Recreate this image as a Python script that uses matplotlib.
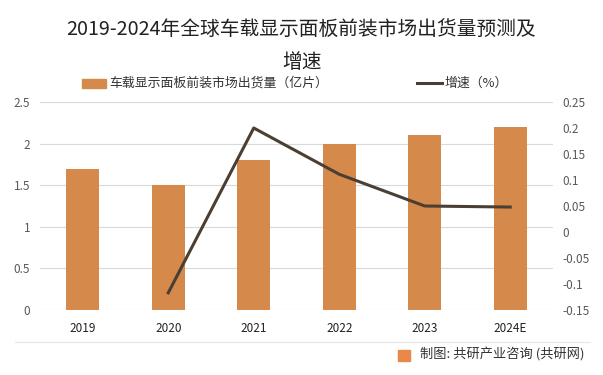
import matplotlib
matplotlib.use('Agg')
import matplotlib.pyplot as plt
from matplotlib.patches import Rectangle
from matplotlib.lines import Line2D

plt.rcParams['font.family'] = ['Noto Sans CJK SC', 'DejaVu Sans']

years = ['2019', '2020', '2021', '2022', '2023', '2024E']
shipments = [1.7, 1.5, 1.8, 2.0, 2.1, 2.2]
growth_years = ['2020', '2021', '2022', '2023', '2024E']
growth = [-0.117, 0.2, 0.111, 0.05, 0.048]
left_ticks = [0, 0.5, 1, 1.5, 2, 2.5]
left_labels = ['0', '0.5', '1', '1.5', '2', '2.5']
right_ticks = [-0.15, -0.1, -0.05, 0, 0.05, 0.1, 0.15, 0.2, 0.25]
right_labels = ['-0.15', '-0.1', '-0.05', '0', '0.05', '0.1', '0.15', '0.2', '0.25']

bar_color = '#D58A4B'
line_color = '#4B3F33'
tick_color = '#595959'

fig = plt.figure(figsize=(6.03, 3.75), dpi=100)
ax = fig.add_axes([40 / 603, 1 - 310 / 375, 513 / 603, 208 / 375])

x = list(range(len(years)))
ax.bar(x, shipments, width=0.39, color=bar_color, zorder=2)
ax.set_xlim(-0.5, len(years) - 0.5)
ax.set_ylim(0, 2.5)
ax.set_yticks(left_ticks)
ax.set_yticklabels(left_labels)
ax.set_xticks(x)
ax.set_xticklabels(years)
ax.grid(axis='y', color='#D9D9D9', linewidth=0.8, zorder=0)
for s in ax.spines.values():
    s.set_visible(False)
ax.tick_params(axis='both', length=0, labelsize=8.5, colors=tick_color)
ax.tick_params(axis='y', pad=7)
ax.tick_params(axis='x', pad=9)
for lab in ax.get_xticklabels():
    lab.set_color('#222222')

ax2 = ax.twinx()
gx = [years.index(y) for y in growth_years]
ax2.plot(gx, growth, color=line_color, linewidth=2.2, zorder=3)
ax2.set_ylim(-0.15, 0.25)
ax2.set_yticks(right_ticks)
ax2.set_yticklabels(right_labels)
for s in ax2.spines.values():
    s.set_visible(False)
ax2.tick_params(axis='y', length=0, labelsize=8.5, colors=tick_color, pad=7)

fig.text(0.5, 1 - 30 / 375, '2019-2024年全球车载显示面板前装市场出货量预测及', ha='center', va='center',
         fontsize=14.2, color='#222222')
fig.text(0.5, 1 - 62 / 375, '增速', ha='center', va='center', fontsize=14.2, color='#222222')

# legend
fig.patches.append(Rectangle((82 / 603, 1 - 88 / 375), 24 / 603, 9 / 375, transform=fig.transFigure,
                             color=bar_color))
fig.text(109 / 603, 1 - 83 / 375, '车载显示面板前装市场出货量（亿片）', ha='left', va='center',
         fontsize=9.3, color='#333333')
fig.lines.append(Line2D([417 / 603, 442 / 603], [1 - 83 / 375, 1 - 83 / 375], transform=fig.transFigure,
                        color=line_color, linewidth=2.2))
fig.text(445 / 603, 1 - 83 / 375, '增速（%）', ha='left', va='center', fontsize=9.3, color='#333333')

# separator and source
fig.lines.append(Line2D([15 / 603, 590 / 603], [1 - 342 / 375, 1 - 342 / 375], transform=fig.transFigure,
                        color='#E6E6E6', linewidth=0.8))
fig.patches.append(Rectangle((398 / 603, 1 - 361 / 375), 12 / 603, 11 / 375, transform=fig.transFigure,
                             color='#E8894A'))
fig.text(420 / 603, 1 - 355 / 375, '制图: 共研产业咨询 (共研网)', ha='left', va='center',
         fontsize=9.5, color='#333333')

fig.savefig('out.png', dpi=100)
